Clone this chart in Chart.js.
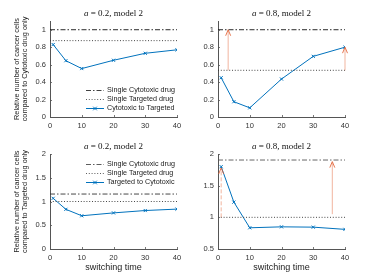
<!DOCTYPE html>
<html>
<head>
<meta charset="utf-8">
<script src="https://cdn.jsdelivr.net/npm/chart.js@4/dist/chart.umd.min.js"></script>
<style>
  body { margin: 0; background: #fff; }
  #wrap { position: relative; width: 382px; height: 280px; }
  canvas { position: absolute; }
</style>
</head>
<body>
<div id="wrap">
  <canvas id="c1" width="191" height="140" style="left:0;top:0"></canvas>
  <canvas id="c2" width="191" height="140" style="left:191px;top:0"></canvas>
  <canvas id="c3" width="191" height="140" style="left:0;top:140px"></canvas>
  <canvas id="c4" width="191" height="140" style="left:191px;top:140px"></canvas>
</div>
<script>
// switching times (x) shared by every panel
const switchTimes = [1, 5, 10, 20, 30, 40];
const xTicks = [0, 10, 20, 30, 40];

// top row: cytotoxic first, then targeted
const cytoToTargetA02 = [0.83, 0.645, 0.555, 0.65, 0.73, 0.77];
const cytoToTargetA08 = [0.45, 0.175, 0.105, 0.435, 0.695, 0.80];
// bottom row: targeted first, then cytotoxic
const targetToCytoA02 = [1.067, 0.835, 0.70, 0.76, 0.81, 0.84];
const targetToCytoA08 = [1.80, 1.24, 0.835, 0.85, 0.845, 0.81];

// single drug reference levels, panel order TL, TR, BL, BR
const singleCytoLevels = [1, 1, 1.157, 1.905];
const singleTargetLevels = [0.875, 0.535, 1.0, 1.0];

const alphaValues = ['0.2', '0.8', '0.2', '0.8'];

const yTicksTop = [0, 0.2, 0.4, 0.6, 0.8, 1];
const yTicksBL = [0, 0.5, 1, 1.5, 2];
const yTicksBR = [0.5, 1, 1.5, 2];

// arrows (x position, start, end, dashed)
const arrowsTR_x = [3.2, 40];
const arrowsTR_from = [0.535, 0.535];
const arrowsTR_to = [1.0, 0.80];
const arrowsTR_dash = [false, false];
const arrowsBR_x = [1, 36];
const arrowsBR_from = [1.0, 1.05];
const arrowsBR_to = [1.78, 1.88];
const arrowsBR_dash = [true, false];

const blue = '#0072BD';
const sans = '"Liberation Sans", Arial, sans-serif';
const serif = '"Liberation Serif", "Times New Roman", serif';

function pts(ys) {
    return switchTimes.map((x, i) => ({ x: x, y: ys[i] }));
}
function flat(v) {
    return [{ x: 0, y: v }, { x: 40, y: v }];
}

const panels = [
    {
        id: 'c1', series: cytoToTargetA02, seriesLabel: 'Cytotoxic to Targeted', idx: 0,
        ymin: 0, ymax: 1.1, yTicks: yTicksTop,
        left: 50, right: 177, top: 21, bottom: 117,
        yTitle: ['Relative number of cancer cells', 'compared to Cytotoxic drug only'],
        xTitle: false, legendTop: 90, cytoColor: '#111'
    },
    {
        id: 'c2', series: cytoToTargetA08, idx: 1,
        ymin: 0, ymax: 1.1, yTicks: yTicksTop,
        left: 27, right: 154, top: 21, bottom: 117,
        yTitle: false, xTitle: false, cytoColor: '#111',
        arrows: { x: arrowsTR_x, from: arrowsTR_from, to: arrowsTR_to, dash: arrowsTR_dash }
    },
    {
        id: 'c3', series: targetToCytoA02, seriesLabel: 'Targeted to Cytotoxic', idx: 2,
        ymin: 0, ymax: 2, yTicks: yTicksBL,
        left: 50, right: 177, top: 14, bottom: 109,
        yTitle: ['Relative number of cancer cells', 'compared to Targeted drug only'],
        xTitle: true, legendTop: 24, cytoColor: '#333'
    },
    {
        id: 'c4', series: targetToCytoA08, idx: 3,
        ymin: 0.5, ymax: 2, yTicks: yTicksBR,
        left: 27, right: 154, top: 14, bottom: 109,
        yTitle: false, xTitle: true, cytoColor: '#555',
        arrows: { x: arrowsBR_x, from: arrowsBR_from, to: arrowsBR_to, dash: arrowsBR_dash }
    }
];

const dashDot = [5, 2, 1.5, 2];
const dotted = [1, 1.8];

const panelExtras = {
    id: 'panelExtras',
    afterDraw: (chart) => {
        const p = chart.options.panel;
        const ctx = chart.ctx;
        const area = chart.chartArea;
        const xs = chart.scales.x, ys = chart.scales.y;
        ctx.save();

        // inward tick marks, matlab style
        ctx.strokeStyle = '#555';
        ctx.lineWidth = 0.8;
        xs.ticks.forEach(t => {
            const px = Math.round(xs.getPixelForValue(t.value)) + 0.5;
            ctx.beginPath(); ctx.moveTo(px, area.bottom); ctx.lineTo(px, area.bottom - 2); ctx.stroke();
        });
        ys.ticks.forEach(t => {
            const py = Math.round(ys.getPixelForValue(t.value)) + 0.5;
            ctx.beginPath(); ctx.moveTo(area.left, py); ctx.lineTo(area.left + 2, py); ctx.stroke();
        });

        // title with italic a
        const rest = ' = ' + alphaValues[p.idx] + ', model 2';
        ctx.font = 'italic 9px ' + serif;
        const w1 = ctx.measureText('a').width;
        ctx.font = '9px ' + serif;
        const w2 = ctx.measureText(rest).width;
        let tx = (area.left + area.right) / 2 - (w1 + w2) / 2;
        const ty = area.top - 7;
        ctx.fillStyle = '#111';
        ctx.textBaseline = 'middle';
        ctx.textAlign = 'left';
        ctx.font = 'italic 9px ' + serif;
        ctx.fillText('a', tx, ty);
        ctx.font = '9px ' + serif;
        ctx.fillText(rest, tx + w1, ty);

        // arrows
        if (p.arrows) {
            const a = p.arrows;
            for (let i = 0; i < a.x.length; i++) {
                const px = xs.getPixelForValue(a.x[i]);
                const y0 = ys.getPixelForValue(a.from[i]);
                const y1 = ys.getPixelForValue(a.to[i]);
                ctx.strokeStyle = 'rgba(232, 120, 80, 0.55)';
                ctx.lineWidth = 1;
                ctx.setLineDash(a.dash[i] ? [4, 2] : []);
                ctx.beginPath(); ctx.moveTo(px, y0); ctx.lineTo(px, y1 + 1); ctx.stroke();
                ctx.setLineDash([]);
                ctx.strokeStyle = 'rgba(225, 95, 50, 0.85)';
                ctx.beginPath();
                ctx.moveTo(px - 2.5, y1 + 6); ctx.lineTo(px, y1); ctx.lineTo(px + 2.5, y1 + 6);
                ctx.stroke();
            }
        }

        // legend
        if (p.seriesLabel) {
            const labels = ['Single Cytotoxic drug', 'Single Targeted drug', p.seriesLabel];
            const x0 = 86, x1 = 104;
            ctx.font = '7.2px ' + sans;
            ctx.textBaseline = 'middle';
            for (let i = 0; i < 3; i++) {
                const ly = p.legendTop + i * 9;
                ctx.lineWidth = i == 2 ? 1 : 0.8;
                ctx.strokeStyle = i == 0 ? p.cytoColor : (i == 1 ? '#333' : blue);
                ctx.setLineDash(i == 0 ? dashDot : (i == 1 ? dotted : []));
                ctx.beginPath(); ctx.moveTo(x0, ly + 0.5); ctx.lineTo(x1, ly + 0.5); ctx.stroke();
                ctx.setLineDash([]);
                if (i == 2) {
                    const mx = (x0 + x1) / 2;
                    ctx.beginPath();
                    ctx.moveTo(mx - 1.8, ly - 1.3); ctx.lineTo(mx + 1.8, ly + 2.3);
                    ctx.moveTo(mx + 1.8, ly - 1.3); ctx.lineTo(mx - 1.8, ly + 2.3);
                    ctx.stroke();
                }
                ctx.fillStyle = '#222';
                ctx.fillText(labels[i], x1 + 3, ly + 0.5);
            }
        }
        ctx.restore();
    }
};

panels.forEach(p => {
    const config = {
        type: 'line',
        data: {
            datasets: [
                {
                    label: 'Single Cytotoxic drug',
                    data: flat(singleCytoLevels[p.idx]),
                    borderColor: p.cytoColor, borderWidth: 0.9, borderDash: dashDot,
                    pointRadius: 0
                },
                {
                    label: 'Single Targeted drug',
                    data: flat(singleTargetLevels[p.idx]),
                    borderColor: '#333', borderWidth: 0.9, borderDash: dotted,
                    pointRadius: 0
                },
                {
                    label: p.seriesLabel || '',
                    data: pts(p.series),
                    borderColor: blue, backgroundColor: blue, borderWidth: 1,
                    pointStyle: 'crossRot', pointRadius: 2.2, pointBorderWidth: 1,
                    tension: 0
                }
            ]
        },
        options: {
            panel: p,
            responsive: false,
            animation: false,
            events: [],
            layout: { padding: { left: 0, top: p.top, right: 191 - p.right, bottom: 0 } },
            plugins: { legend: { display: false }, tooltip: { enabled: false } },
            scales: {
                x: {
                    type: 'linear', min: 0, max: 40,
                    afterBuildTicks: (s) => { s.ticks = xTicks.map(v => ({ value: v })); },
                    afterFit: (s) => { s.height = 140 - p.bottom; },
                    grid: { display: false, drawTicks: false },
                    border: { display: true, color: '#555', width: 1 },
                    ticks: { padding: 4, color: '#333', maxRotation: 0, font: { family: sans, size: 7.5 } },
                    title: {
                        display: p.xTitle, text: 'switching time', color: '#222',
                        font: { family: sans, size: 9, lineHeight: 1 },
                        padding: { top: 0, bottom: 7.5 }
                    }
                },
                y: {
                    type: 'linear', min: p.ymin, max: p.ymax,
                    afterBuildTicks: (s) => { s.ticks = p.yTicks.map(v => ({ value: v })); },
                    afterFit: (s) => { s.width = p.left; },
                    grid: { display: false, drawTicks: false },
                    border: { display: true, color: '#555', width: 1 },
                    ticks: {
                        padding: 4, color: '#333', font: { family: sans, size: 7.5 },
                        callback: (v) => String(+Number(v).toFixed(2))
                    },
                    title: {
                        display: !!p.yTitle, text: p.yTitle || '', color: '#222',
                        font: { family: sans, size: 7.3, lineHeight: 1.1 },
                        padding: { top: 13, bottom: 0 }
                    }
                }
            }
        },
        plugins: [panelExtras]
    };
    new Chart(document.getElementById(p.id), config);
});
</script>
</body>
</html>
